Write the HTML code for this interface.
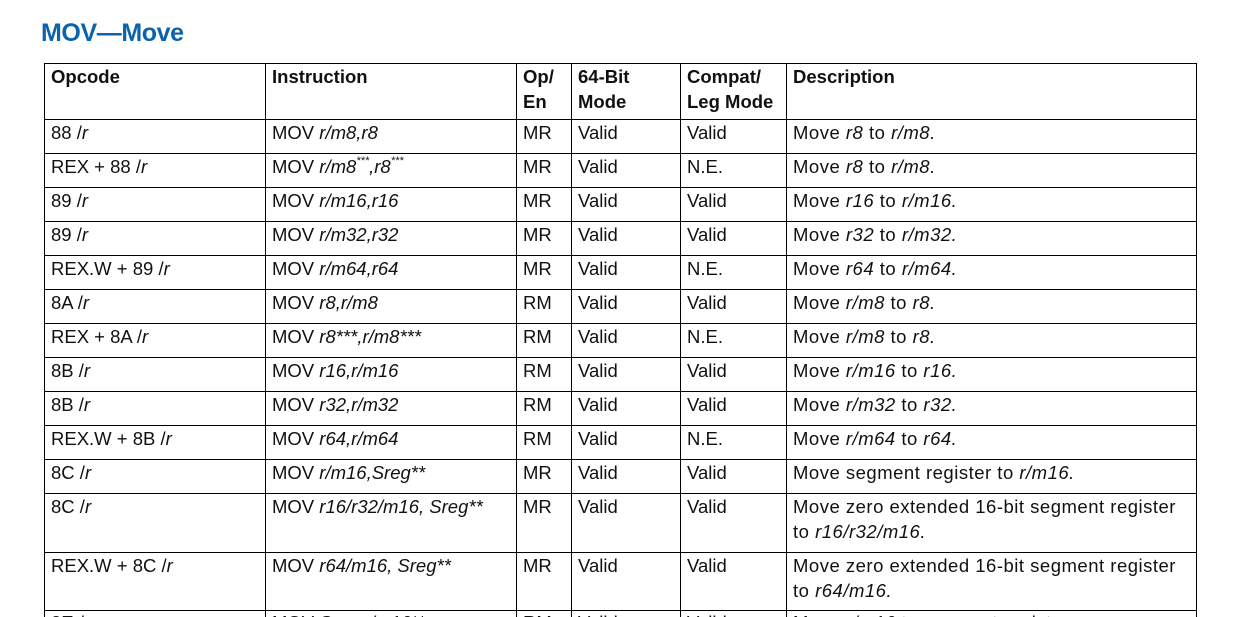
<!DOCTYPE html>
<html style="height:617px;overflow:hidden"><head><meta charset="utf-8"><style>
body{margin:0;width:1250px;height:617px;background:#fff;overflow:hidden;font-family:"Liberation Sans",sans-serif;color:#111;position:relative}
.t{position:absolute;left:41px;top:19px;font-size:25px;font-weight:bold;color:#0b63ae;letter-spacing:-0.4px}
.h{position:absolute;background:#000;height:1px}
.v{position:absolute;background:#000;width:1px;top:63px;height:554px}
.c{position:absolute;font-size:18.5px;white-space:nowrap;line-height:25px}
.d{letter-spacing:0.5px}
.b{font-weight:bold}
i{font-style:italic}
sup{font-size:11px;vertical-align:9px;line-height:0}
</style></head><body>
<div class="t">MOV—Move</div>
<div class="h" style="left:44px;width:1153px;top:63px"></div>
<div class="h" style="left:44px;width:1153px;top:119px"></div>
<div class="h" style="left:44px;width:1153px;top:153px"></div>
<div class="h" style="left:44px;width:1153px;top:187px"></div>
<div class="h" style="left:44px;width:1153px;top:221px"></div>
<div class="h" style="left:44px;width:1153px;top:255px"></div>
<div class="h" style="left:44px;width:1153px;top:289px"></div>
<div class="h" style="left:44px;width:1153px;top:323px"></div>
<div class="h" style="left:44px;width:1153px;top:357px"></div>
<div class="h" style="left:44px;width:1153px;top:391px"></div>
<div class="h" style="left:44px;width:1153px;top:425px"></div>
<div class="h" style="left:44px;width:1153px;top:459px"></div>
<div class="h" style="left:44px;width:1153px;top:493px"></div>
<div class="h" style="left:44px;width:1153px;top:552px"></div>
<div class="h" style="left:44px;width:1153px;top:610px"></div>
<div class="v" style="left:44px"></div>
<div class="v" style="left:265px"></div>
<div class="v" style="left:516px"></div>
<div class="v" style="left:571px"></div>
<div class="v" style="left:680px"></div>
<div class="v" style="left:786px"></div>
<div class="v" style="left:1196px"></div>

<div class="c b" style="left:51px;top:64px">Opcode</div>
<div class="c b" style="left:272px;top:64px">Instruction</div>
<div class="c b" style="left:523px;top:64px">Op/<br>En</div>
<div class="c b" style="left:578px;top:64px">64-Bit<br>Mode</div>
<div class="c b" style="left:687px;top:64px">Compat/<br>Leg Mode</div>
<div class="c b" style="left:793px;top:64px">Description</div>

<div style="position:absolute;left:0;top:120px">
<div class="c" style="left:51px;top:0">88 /<i>r</i></div><div class="c" style="left:272px;top:0">MOV <i>r/m8,r8</i></div><div class="c" style="left:523px;top:0">MR</div><div class="c" style="left:578px;top:0">Valid</div><div class="c" style="left:687px;top:0">Valid</div><div class="c d" style="left:793px;top:0">Move <i>r8</i> to <i>r/m8.</i></div>
<div class="c" style="left:51px;top:34px">REX + 88 /<i>r</i></div><div class="c" style="left:272px;top:34px">MOV <i>r/m8<sup>***</sup>,r8<sup>***</sup></i></div><div class="c" style="left:523px;top:34px">MR</div><div class="c" style="left:578px;top:34px">Valid</div><div class="c" style="left:687px;top:34px">N.E.</div><div class="c d" style="left:793px;top:34px">Move <i>r8</i> to <i>r/m8.</i></div>
<div class="c" style="left:51px;top:68px">89 /<i>r</i></div><div class="c" style="left:272px;top:68px">MOV <i>r/m16,r16</i></div><div class="c" style="left:523px;top:68px">MR</div><div class="c" style="left:578px;top:68px">Valid</div><div class="c" style="left:687px;top:68px">Valid</div><div class="c d" style="left:793px;top:68px">Move <i>r16</i> to <i>r/m16.</i></div>
<div class="c" style="left:51px;top:102px">89 /<i>r</i></div><div class="c" style="left:272px;top:102px">MOV <i>r/m32,r32</i></div><div class="c" style="left:523px;top:102px">MR</div><div class="c" style="left:578px;top:102px">Valid</div><div class="c" style="left:687px;top:102px">Valid</div><div class="c d" style="left:793px;top:102px">Move <i>r32</i> to <i>r/m32.</i></div>
<div class="c" style="left:51px;top:136px">REX.W + 89 /<i>r</i></div><div class="c" style="left:272px;top:136px">MOV <i>r/m64,r64</i></div><div class="c" style="left:523px;top:136px">MR</div><div class="c" style="left:578px;top:136px">Valid</div><div class="c" style="left:687px;top:136px">N.E.</div><div class="c d" style="left:793px;top:136px">Move <i>r64</i> to <i>r/m64.</i></div>
<div class="c" style="left:51px;top:170px">8A /<i>r</i></div><div class="c" style="left:272px;top:170px">MOV <i>r8,r/m8</i></div><div class="c" style="left:523px;top:170px">RM</div><div class="c" style="left:578px;top:170px">Valid</div><div class="c" style="left:687px;top:170px">Valid</div><div class="c d" style="left:793px;top:170px">Move <i>r/m8</i> to <i>r8.</i></div>
<div class="c" style="left:51px;top:204px">REX + 8A /<i>r</i></div><div class="c" style="left:272px;top:204px">MOV <i>r8***,r/m8***</i></div><div class="c" style="left:523px;top:204px">RM</div><div class="c" style="left:578px;top:204px">Valid</div><div class="c" style="left:687px;top:204px">N.E.</div><div class="c d" style="left:793px;top:204px">Move <i>r/m8</i> to <i>r8.</i></div>
<div class="c" style="left:51px;top:238px">8B /<i>r</i></div><div class="c" style="left:272px;top:238px">MOV <i>r16,r/m16</i></div><div class="c" style="left:523px;top:238px">RM</div><div class="c" style="left:578px;top:238px">Valid</div><div class="c" style="left:687px;top:238px">Valid</div><div class="c d" style="left:793px;top:238px">Move <i>r/m16</i> to <i>r16.</i></div>
<div class="c" style="left:51px;top:272px">8B /<i>r</i></div><div class="c" style="left:272px;top:272px">MOV <i>r32,r/m32</i></div><div class="c" style="left:523px;top:272px">RM</div><div class="c" style="left:578px;top:272px">Valid</div><div class="c" style="left:687px;top:272px">Valid</div><div class="c d" style="left:793px;top:272px">Move <i>r/m32</i> to <i>r32.</i></div>
<div class="c" style="left:51px;top:306px">REX.W + 8B /<i>r</i></div><div class="c" style="left:272px;top:306px">MOV <i>r64,r/m64</i></div><div class="c" style="left:523px;top:306px">RM</div><div class="c" style="left:578px;top:306px">Valid</div><div class="c" style="left:687px;top:306px">N.E.</div><div class="c d" style="left:793px;top:306px">Move <i>r/m64</i> to <i>r64.</i></div>
<div class="c" style="left:51px;top:340px">8C /<i>r</i></div><div class="c" style="left:272px;top:340px">MOV <i>r/m16,Sreg**</i></div><div class="c" style="left:523px;top:340px">MR</div><div class="c" style="left:578px;top:340px">Valid</div><div class="c" style="left:687px;top:340px">Valid</div><div class="c d" style="left:793px;top:340px">Move segment register to <i>r/m16.</i></div>
<div class="c" style="left:51px;top:374px">8C /<i>r</i></div><div class="c" style="left:272px;top:374px">MOV <i>r16/r32/m16, Sreg**</i></div><div class="c" style="left:523px;top:374px">MR</div><div class="c" style="left:578px;top:374px">Valid</div><div class="c" style="left:687px;top:374px">Valid</div><div class="c d" style="left:793px;top:374px">Move zero extended 16-bit segment register<br>to <i>r16/r32/m16.</i></div>
<div class="c" style="left:51px;top:433px">REX.W + 8C /<i>r</i></div><div class="c" style="left:272px;top:433px">MOV <i>r64/m16, Sreg**</i></div><div class="c" style="left:523px;top:433px">MR</div><div class="c" style="left:578px;top:433px">Valid</div><div class="c" style="left:687px;top:433px">Valid</div><div class="c d" style="left:793px;top:433px">Move zero extended 16-bit segment register<br>to <i>r64/m16.</i></div>
<div class="c" style="left:51px;top:490px">8E /<i>r</i></div><div class="c" style="left:272px;top:490px">MOV <i>Sreg,r/m16**</i></div><div class="c" style="left:523px;top:490px">RM</div><div class="c" style="left:578px;top:490px">Valid</div><div class="c" style="left:687px;top:490px">Valid</div><div class="c d" style="left:793px;top:490px">Move <i>r/m16</i> to segment register.</div>
</div>
</body></html>
